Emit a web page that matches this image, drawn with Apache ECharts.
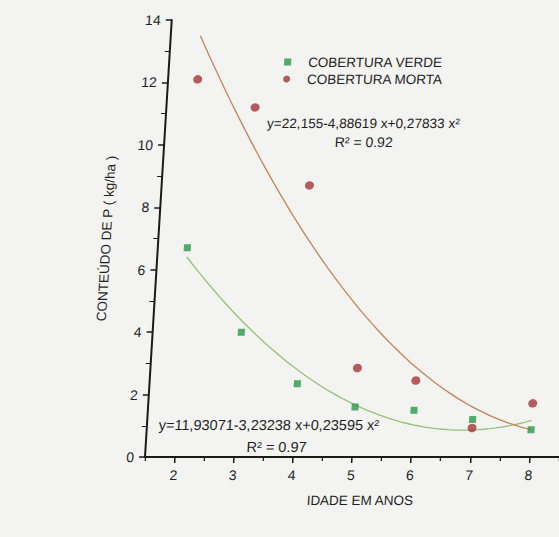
<!DOCTYPE html>
<html>
<head>
<meta charset="utf-8">
<script src="https://cdn.jsdelivr.net/npm/echarts@6/dist/echarts.min.js"></script>
<style>
  html, body { margin: 0; padding: 0; background: #f3f3f1; overflow: hidden; }
  /* the printed figure leans slightly: top of the vertical axis sits further right */
  #chart { width: 559px; height: 537px; transform: skewX(-3.5deg); transform-origin: 0 457px; }
</style>
</head>
<body>
<div id="chart"></div>
<script>
// Phosphorus content (kg/ha) by stand age (years)
const idade = [2, 3, 4, 5, 6, 7, 8];
const coberturaVerde = [6.7, 4.0, 2.35, 1.6, 1.5, 1.2, 0.87];
const coberturaMorta = [12.1, 11.2, 8.7, 2.85, 2.45, 0.93, 1.72];

// quadratic regressions: y = c0 + c1*x + c2*x^2
const ajusteVerde = [11.93071, -3.23238, 0.23595];
const ajusteMorta = [22.155, -4.88619, 0.27833];
const r2Verde = '0.97';
const r2Morta = '0.92';

const xMajorTicks = [2, 3, 4, 5, 6, 7, 8];
const xMinorTicks = [1.5, 2.5, 3.5, 4.5, 5.5, 6.5, 7.5, 8.5];

const FONT = '"Liberation Sans", Arial, Helvetica, sans-serif';
const INK = '#1f1f1f';
const VERDE = '#2a9848';
const MORTA = '#a5353a';

function curva(c) {
  const pts = [];
  for (let i = 0; i <= 60; i++) {
    const x = 2 + i * 0.1;
    pts.push([x, c[0] + c[1] * x + c[2] * x * x]);
  }
  return pts;
}
function num(v) { return String(v).replace('.', ','); }
function equacao(c) {
  return 'y=' + num(c[0]) + '-' + num(-c[1]) + ' x+' + num(c[2]) + ' x\u00B2';
}
function pares(ys) { return idade.map((x, i) => [x, ys[i]]); }

const chart = echarts.init(document.getElementById('chart'), null, { renderer: 'svg' });

const axisLine = { show: true, onZero: false, lineStyle: { color: '#1a1a1a', width: 2 } };

chart.setOption({
  backgroundColor: 'transparent',
  animation: false,
  grid: { left: 145, right: 0, top: 20, bottom: 80 },
  legend: {
    orient: 'vertical',
    left: 255,
    top: 50,
    itemWidth: 7,
    itemHeight: 7,
    itemGap: 3,
    selectedMode: false,
    data: ['COBERTURA VERDE', 'COBERTURA MORTA'],
    textStyle: { fontFamily: FONT, fontSize: 13.5, color: INK, lineHeight: 14, padding: [0, 0, 0, 12] }
  },
  xAxis: [
    {
      type: 'value', min: 1.5, max: 8.5,
      name: 'IDADE EM ANOS', nameLocation: 'middle', nameGap: 36,
      nameTextStyle: { fontFamily: FONT, fontSize: 13.5, color: INK, padding: [0, 0, 0, 21] },
      axisLine: axisLine,
      axisTick: { show: true, customValues: xMajorTicks, length: 6, lineStyle: { color: '#1a1a1a', width: 1.5 } },
      axisLabel: { customValues: xMajorTicks, fontFamily: FONT, fontSize: 14, color: INK, margin: 11 },
      splitLine: { show: false }
    },
    {
      type: 'value', min: 1.5, max: 8.5, position: 'bottom',
      axisLine: { show: false },
      axisTick: { show: true, customValues: xMinorTicks, length: 4, lineStyle: { color: '#1a1a1a', width: 1.2 } },
      axisLabel: { show: false },
      splitLine: { show: false }
    }
  ],
  yAxis: {
    type: 'value', min: 0, max: 14, interval: 2,
    name: 'CONTEÚDO DE P ( kg/ha )', nameLocation: 'middle', nameGap: 45,
    nameTextStyle: { fontFamily: FONT, fontSize: 13.5, color: INK },
    axisLine: axisLine,
    axisTick: { show: true, length: 6, lineStyle: { color: '#1a1a1a', width: 1.5 } },
    minorTick: { show: true, splitNumber: 2, length: 5, lineStyle: { color: '#1a1a1a', width: 1.2 } },
    axisLabel: { fontFamily: FONT, fontSize: 14, color: INK, margin: 11 },
    splitLine: { show: false }
  },
  series: [
    {
      type: 'line', data: curva(ajusteVerde), showSymbol: false, silent: true,
      lineStyle: { color: '#96c278', width: 1.3 }, z: 1
    },
    {
      type: 'line', data: curva(ajusteMorta), showSymbol: false, silent: true,
      lineStyle: { color: '#c7845a', width: 1.3 }, z: 1
    },
    {
      name: 'COBERTURA VERDE', type: 'scatter', data: pares(coberturaVerde),
      symbol: 'rect', symbolSize: 7, itemStyle: { color: VERDE }, z: 3
    },
    {
      name: 'COBERTURA MORTA', type: 'scatter', data: pares(coberturaMorta),
      symbol: 'circle', symbolSize: [9, 8.5], itemStyle: { color: MORTA }, z: 3
    }
  ],
  graphic: [
    { type: 'text', x: 343, y: 123.5, style: { text: equacao(ajusteMorta), fill: INK, font: '13.6px ' + FONT, align: 'center', verticalAlign: 'middle' } },
    { type: 'text', x: 344.5, y: 142, style: { text: 'R\u00B2 = ' + r2Morta, fill: INK, font: '14px ' + FONT, align: 'center', verticalAlign: 'middle' } },
    { type: 'text', x: 267, y: 425, style: { text: equacao(ajusteVerde), fill: INK, font: '14.5px ' + FONT, align: 'center', verticalAlign: 'middle' } },
    { type: 'text', x: 276, y: 447, style: { text: 'R\u00B2 = ' + r2Verde, fill: INK, font: '14.5px ' + FONT, align: 'center', verticalAlign: 'middle' } }
  ]
});
</script>
</body>
</html>
